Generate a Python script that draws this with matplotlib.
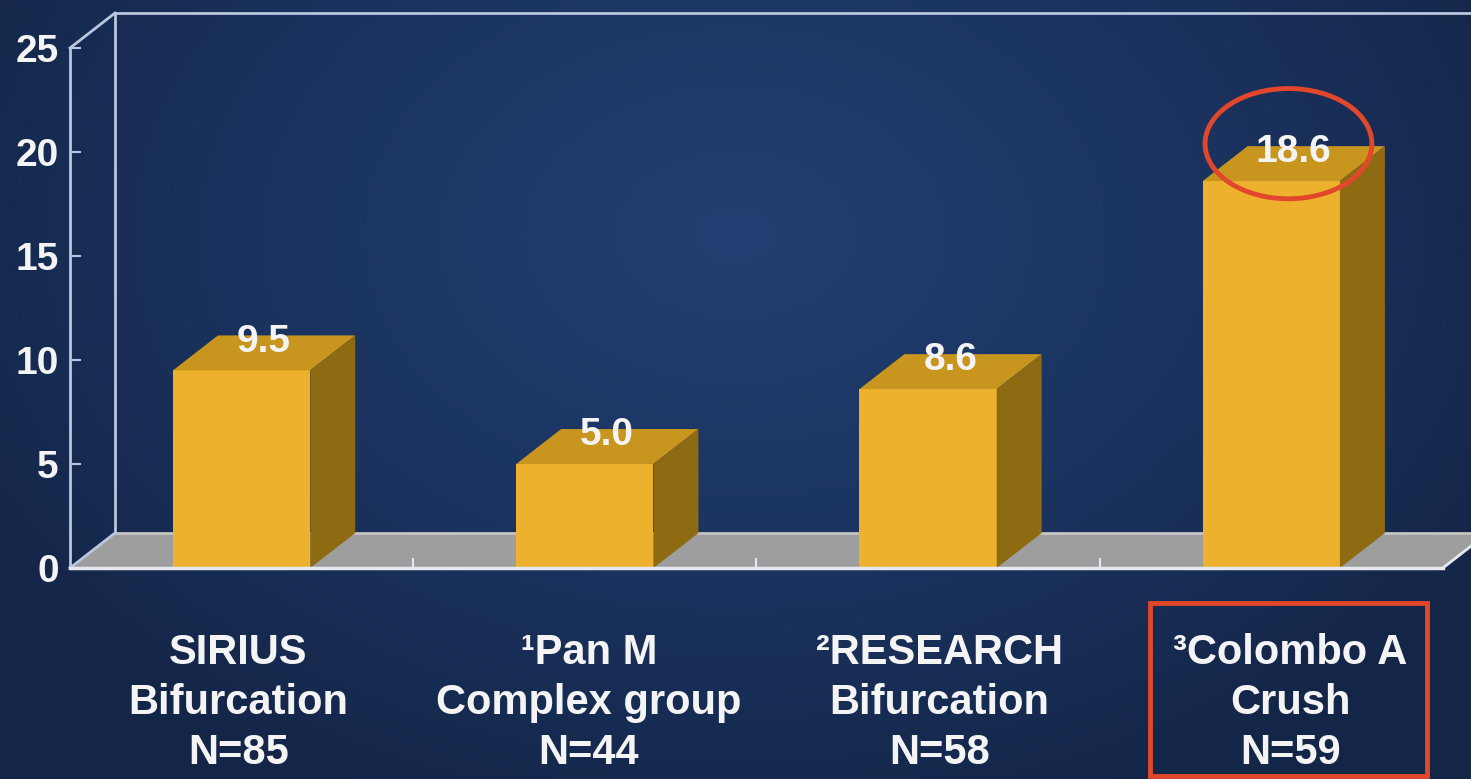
import numpy as np
import matplotlib
matplotlib.use('Agg')
import matplotlib.pyplot as plt
from matplotlib.patches import Polygon, Ellipse, Rectangle
from matplotlib.colors import LinearSegmentedColormap
import matplotlib.transforms as mtransforms

# data
studies = ['SIRIUS\nBifurcation\nN=85',
           '\u00b9Pan M\nComplex group\nN=44',
           '\u00b2RESEARCH\nBifurcation\nN=58',
           '\u00b3Colombo A\nCrush\nN=59']
values = [9.5, 5.0, 8.6, 18.6]
value_labels = ['9.5', '5.0', '8.6', '18.6']
y_ticks = [0, 5, 10, 15, 20, 25]
highlight = 3  # Colombo A, circled and boxed

plt.rcParams['font.family'] = ['Liberation Sans', 'DejaVu Sans']
plt.rcParams['font.weight'] = 'bold'

fig = plt.figure(figsize=(14.71, 7.79), dpi=100)

# background: dark navy with a soft lighter glow
bg = fig.add_axes([0, 0, 1, 1])
gx, gy = np.meshgrid(np.linspace(0, 1, 300), np.linspace(0, 1, 160))
r = np.sqrt(((gx - 0.5) / 0.6) ** 2 + ((gy - 0.3) / 0.8) ** 2)
cmap = LinearSegmentedColormap.from_list('bg', ['#213f72', '#1b3461', '#142648'])
bg.imshow(np.clip(r, 0, 1), cmap=cmap, extent=[0, 1, 0, 1], aspect='auto',
          origin='upper', interpolation='bicubic')
bg.axis('off')

ax = fig.add_axes([0.0476, 0.2709, 0.9333, 0.6675])
ax.patch.set_alpha(0)
x = np.arange(len(values))
ax.set_xlim(-0.5, 3.5)
ax.set_ylim(0, 25)
for s in ax.spines.values():
    s.set_visible(False)

DX, DY = 0.131, 1.68   # 3d depth offset (data units)
W = 0.40
line_c = '#B9C6DE'

# floor
floor = Polygon([(-0.5, 0), (3.5, 0), (3.5 + DX, DY), (-0.5 + DX, DY)],
                closed=True, facecolor='#9E9E9E', edgecolor='none',
                zorder=1, clip_on=False)
ax.add_patch(floor)
ax.plot([-0.5 + DX, 3.5 + DX], [DY, DY], color='#C4C4C4', lw=2, zorder=1.5, clip_on=False)
ax.plot([-0.5, 3.5], [0, 0], color='#E6E9F0', lw=2.5, zorder=4, clip_on=False)
ax.plot([3.5, 3.5 + DX], [0, DY], color='#E6E9F0', lw=2, zorder=1.5, clip_on=False)

# walls
ax.plot([-0.5, -0.5], [0, 25], color=line_c, lw=2, clip_on=False, zorder=2)
ax.plot([-0.5, -0.5 + DX], [0, DY], color=line_c, lw=2, clip_on=False, zorder=2)
ax.plot([-0.5, -0.5 + DX], [25, 25 + DY], color=line_c, lw=2, clip_on=False, zorder=2)
ax.plot([-0.5 + DX, -0.5 + DX], [DY, 25 + DY], color=line_c, lw=2, clip_on=False, zorder=2)
ax.plot([-0.5 + DX, 3.5 + DX], [25 + DY, 25 + DY], color=line_c, lw=2, clip_on=False, zorder=2)

# bars
ax.bar(x, values, width=W, color='#EDB12E', zorder=3)
for xi, v in zip(x, values):
    top = Polygon([(xi - W / 2, v), (xi + W / 2, v), (xi + W / 2 + DX, v + DY),
                   (xi - W / 2 + DX, v + DY)], closed=True,
                  facecolor='#C8961F', edgecolor='none', zorder=3, clip_on=False)
    side = Polygon([(xi + W / 2, 0), (xi + W / 2 + DX, DY), (xi + W / 2 + DX, v + DY),
                    (xi + W / 2, v)], closed=True,
                   facecolor='#8E6A13', edgecolor='none', zorder=3, clip_on=False)
    ax.add_patch(top)
    ax.add_patch(side)

for xi, v, lab in zip(x, values, value_labels):
    ax.text(xi + DX / 2, v + DY - 0.3, lab, ha='center', va='center', color='#F4F4F4',
            fontsize=28, fontweight='bold', zorder=5)

# ticks
ax.set_yticks(y_ticks)
ax.set_yticklabels([str(t) for t in y_ticks])
ax.tick_params(axis='y', direction='in', length=8, width=1.5, color=line_c,
               labelcolor='#F4F4F4', labelsize=28, pad=8)
ax.set_xticks([])
ax.set_xticks([0.5, 1.5, 2.5], minor=True)
ax.tick_params(axis='x', which='minor', direction='in', length=7, width=1.5,
               color='#E6E9F0')

# category labels
trans = mtransforms.blended_transform_factory(ax.transData, fig.transFigure)
for xi, lab in zip(x, studies):
    ax.text(xi * 1.022 - 0.01, 0.0976, lab, transform=trans, ha='center', va='center',
            color='#F4F4F4', fontsize=30, fontweight='bold', linespacing=1.33,
            multialignment='center', clip_on=False)

# highlight
ax.add_patch(Ellipse((highlight + 0.05, values[highlight] + 1.8), 0.486, 5.3,
                     fill=False, edgecolor='#E2462B', lw=3.5, zorder=6, clip_on=False))
fig.add_artist(Rectangle((0.7818, 0.004), 0.188, 0.222, transform=fig.transFigure,
                         fill=False, edgecolor='#E2462B', lw=3.5))

fig.savefig('out.png', dpi=100)
